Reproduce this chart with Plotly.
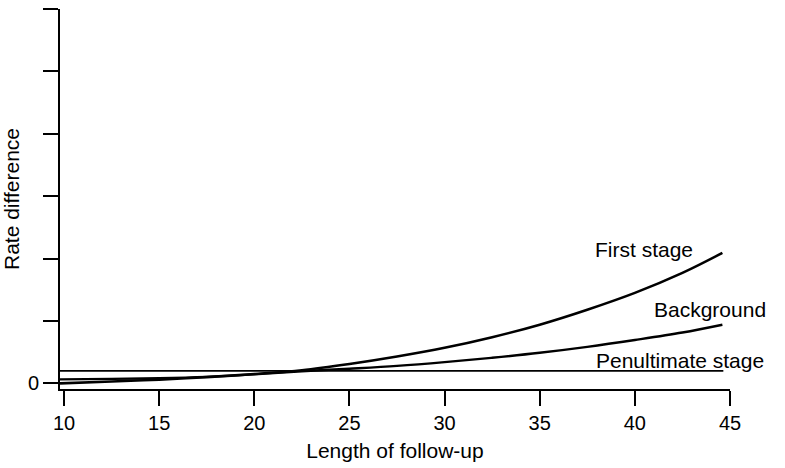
import plotly.graph_objects as go

# Length of follow-up (x) sample points
follow_up = [9.79, 12.5, 15, 17.5, 20, 22.5, 25, 27.5, 30, 32.5, 35, 37.5, 40, 42.5, 44.6]
# Rate difference curves (y, arbitrary units; ticks unlabelled except 0)
first_stage = [0.0, 0.03, 0.06, 0.10, 0.15, 0.21, 0.31, 0.43, 0.57, 0.74, 0.94, 1.18, 1.45, 1.77, 2.09]
background = [0.064, 0.072, 0.083, 0.105, 0.145, 0.195, 0.235, 0.28, 0.34, 0.41, 0.49, 0.585, 0.695, 0.815, 0.94]
penultimate_x = [9.79, 44.65]
penultimate = [0.20, 0.20]

x_ticks = [10, 15, 20, 25, 30, 35, 40, 45]
y_ticks = [0, 1, 2, 3, 4, 5, 6]
y_tick_text = ["0", "", "", "", "", "", ""]

curve_labels = ["First stage", "Background", "Penultimate stage"]
label_x = [40.5, 43.95, 42.35]
label_y = [2.15, 1.19, 0.36]

FONT = "Liberation Sans, Arial, Helvetica, sans-serif"

fig = go.Figure()
fig.add_trace(go.Scatter(x=penultimate_x, y=penultimate, mode="lines",
                         line=dict(color="black", width=1.6), showlegend=False))
fig.add_trace(go.Scatter(x=follow_up, y=background, mode="lines",
                         line=dict(color="black", width=2.4, shape="spline", smoothing=1.0),
                         showlegend=False))
fig.add_trace(go.Scatter(x=follow_up, y=first_stage, mode="lines",
                         line=dict(color="black", width=2.6, shape="spline", smoothing=1.0),
                         showlegend=False))

for t, x, y in zip(curve_labels, label_x, label_y):
    fig.add_annotation(x=x, y=y, text=t, showarrow=False, xanchor="center", yanchor="middle",
                       font=dict(family=FONT, size=21, color="black"))

fig.update_layout(
    width=785, height=468,
    margin=dict(l=53, r=55, t=9, b=76),
    plot_bgcolor="white", paper_bgcolor="white",
    font=dict(family=FONT, size=20, color="black"),
    xaxis=dict(range=[9.79, 45.0], tickvals=x_ticks, ticks="outside", ticklen=15, tickwidth=2,
               tickcolor="black", showline=True, linecolor="black", linewidth=2,
               showgrid=False, zeroline=False,
               title=dict(text="Length of follow-up", font=dict(size=21), standoff=10),
               tickfont=dict(size=20)),
    yaxis=dict(range=[-0.09, 6.0], tickvals=y_ticks, ticktext=y_tick_text, ticks="outside",
               ticklen=15, tickwidth=2, tickcolor="black", showline=True, linecolor="black",
               linewidth=2, showgrid=False, zeroline=False,
               title=dict(text="Rate difference", font=dict(size=21), standoff=4),
               tickfont=dict(size=20)),
)

fig.write_html("out.html")
